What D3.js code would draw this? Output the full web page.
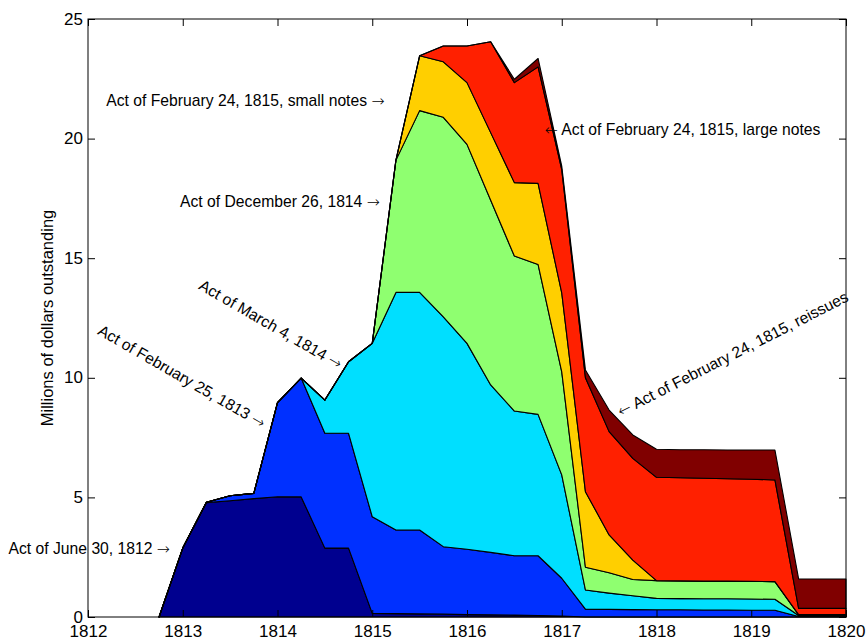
<!DOCTYPE html>
<html>
<head>
<meta charset="utf-8">
<script src="https://cdn.jsdelivr.net/npm/d3@7"></script>
<style>
  body { margin: 0; background: #fff; }
  svg { display: block; font-family: "Liberation Sans", Arial, sans-serif; }
</style>
</head>
<body>
<div class="chart"></div>
<script>
// quarterly dates
const years = [1812.75, 1813, 1813.25, 1813.5, 1813.75, 1814, 1814.25, 1814.5, 1814.75, 1815,
  1815.25, 1815.5, 1815.75, 1816, 1816.25, 1816.5, 1816.75, 1817, 1817.25, 1817.5,
  1817.75, 1818, 1818.25, 1818.5, 1818.75, 1819, 1819.25, 1819.5, 1819.75, 1820]

// millions of dollars outstanding, per act
const june1812 = [0, 2.88, 4.78, 4.86, 4.95, 5.03, 5.02, 2.88, 2.88, 0.15,
  0.14, 0.13, 0.12, 0.10, 0.09, 0.08, 0.06, 0.04, 0, 0,
  0, 0, 0, 0, 0, 0, 0, 0, 0, 0]
const feb1813 = [0, 0, 0.02, 0.21, 0.22, 3.93, 4.97, 4.80, 4.80, 4.04,
  3.50, 3.51, 2.82, 2.73, 2.61, 2.48, 2.50, 1.58, 0.33, 0.32,
  0.31, 0.30, 0.30, 0.29, 0.29, 0.28, 0.28, 0.02, 0.02, 0.02]
const mar1814 = [0, 0, 0, 0, 0, 0, 0, 1.39, 2.99, 7.25,
  9.93, 9.93, 9.61, 8.61, 7.00, 6.05, 5.91, 4.32, 0.80, 0.68,
  0.58, 0.48, 0.47, 0.47, 0.47, 0.47, 0.46, 0.04, 0.04, 0.04]
const dec1814 = [0, 0, 0, 0, 0, 0, 0, 0, 0, 0,
  5.53, 7.60, 8.34, 8.32, 7.72, 6.48, 6.27, 4.31, 0.95, 0.85,
  0.68, 0.74, 0.74, 0.74, 0.74, 0.74, 0.74, 0.04, 0.04, 0.04]
const feb1815small = [0, 0, 0, 0, 0, 0, 0, 0, 0, 0,
  0, 2.29, 2.32, 2.58, 2.83, 3.07, 3.39, 3.30, 3.16, 1.58,
  0.81, 0, 0, 0, 0, 0, 0, 0, 0, 0]
const feb1815large = [0, 0, 0, 0, 0, 0, 0, 0, 0, 0,
  0, 0, 0.66, 1.53, 3.80, 4.18, 4.87, 5.15, 4.76, 4.32,
  4.25, 4.32, 4.31, 4.30, 4.28, 4.27, 4.25, 0.26, 0.26, 0.26]
const feb1815reissue = [0, 0, 0, 0, 0, 0, 0, 0, 0, 0,
  0, 0, 0, 0, 0, 0.14, 0.35, 0.15, 0.33, 0.90,
  0.98, 1.17, 1.17, 1.19, 1.20, 1.22, 1.25, 1.23, 1.23, 1.23]

const seriesNames = ['june1812', 'feb1813', 'mar1814', 'dec1814', 'feb1815small', 'feb1815large', 'feb1815reissue']
const seriesValues = [june1812, feb1813, mar1814, dec1814, feb1815small, feb1815large, feb1815reissue]

const xTicks = [1812, 1813, 1814, 1815, 1816, 1817, 1818, 1819, 1820]
const yTicks = [0, 5, 10, 15, 20, 25]

// annotation texts and the point (year, value) the arrow touches
const noteTexts = [
  'Act of June 30, 1812 \u2192',
  'Act of February 25, 1813 \u2192',
  'Act of March 4, 1814 \u2192',
  'Act of December 26, 1814 \u2192',
  'Act of February 24, 1815, small notes \u2192',
  '\u2190 Act of February 24, 1815, large notes',
  '\u2190 Act of February 24, 1815, reissues'
]
const noteYears = [1812.865, 1813.86, 1814.67, 1815.08, 1815.13, 1816.82, 1817.6]
const noteValues = [2.88, 8.07, 10.54, 17.39, 21.61, 20.4, 8.57]

const W = 867, H = 640
const margin = { left: 88, right: 21, top: 19, bottom: 23 }
const colors = ['#00008F', '#0030FF', '#00DFFF', '#8FFF70', '#FFCF00', '#FF2000', '#800000']

const svg = d3.select('.chart')
  .append('svg')
  .attr('width', W)
  .attr('height', H)

const x = d3.scaleLinear()
  .domain([1812, 1820])
  .range([margin.left, W - margin.right])
const y = d3.scaleLinear()
  .domain([0, 25])
  .range([H - margin.bottom, margin.top])

// build rows for d3.stack
const rows = years.map((yr, i) => {
  const r = { year: yr }
  seriesNames.forEach((n, k) => { r[n] = seriesValues[k][i] })
  return r
})
const stacked = d3.stack().keys(seriesNames)(rows)

const area = d3.area()
  .x(d => x(d.data.year))
  .y0(d => y(d[0]))
  .y1(d => y(d[1]))

svg.selectAll('path.layer')
  .data(stacked)
  .enter()
  .append('path')
  .attr('class', 'layer')
  .attr('d', area)
  .attr('fill', (d, i) => colors[i])
  .attr('stroke', '#000')
  .attr('stroke-width', 1.1)
  .attr('stroke-linejoin', 'round')

// axes, ticks pointing inward on all four sides
const fs = '17px'
const gx = svg.append('g')
  .attr('transform', `translate(0,${y(0)})`)
  .call(d3.axisBottom(x).tickValues(xTicks).tickFormat(d3.format('d')).tickSizeInner(-7).tickSizeOuter(0).tickPadding(8))
const gxTop = svg.append('g')
  .attr('transform', `translate(0,${y(25)})`)
  .call(d3.axisTop(x).tickValues(xTicks).tickFormat('').tickSizeInner(-7).tickSizeOuter(0))
const gy = svg.append('g')
  .attr('transform', `translate(${x(1812)},0)`)
  .call(d3.axisLeft(y).tickValues(yTicks).tickFormat(d3.format('d')).tickSizeInner(-7).tickSizeOuter(0).tickPadding(5))
const gyRight = svg.append('g')
  .attr('transform', `translate(${x(1820)},0)`)
  .call(d3.axisRight(y).tickValues(yTicks).tickFormat('').tickSizeInner(-7).tickSizeOuter(0))

;[gx, gxTop, gy, gyRight].forEach(g => {
  g.select('.domain').remove()
  g.selectAll('line').attr('stroke', '#000')
  g.selectAll('text')
    .attr('font-size', fs)
    .attr('font-family', '"Liberation Sans", Arial, sans-serif')
    .attr('fill', '#000')
})
gy.selectAll('text').attr('dy', '0.3em')

// box
svg.append('rect')
  .attr('x', x(1812))
  .attr('y', y(25))
  .attr('width', x(1820) - x(1812))
  .attr('height', y(0) - y(25))
  .attr('fill', 'none')
  .attr('stroke', '#000')
  .attr('stroke-width', 1)

// y label
svg.append('text')
  .attr('transform', `translate(53,${(y(0) + y(25)) / 2}) rotate(-90)`)
  .attr('text-anchor', 'middle')
  .attr('font-size', '16.5px')
  .text('Millions of dollars outstanding')

// annotations, arrow glyph drawn in DejaVu for a longer arrow
const noteRot = [0, 30, 30, 0, 0, 0, -27]
const notes = svg.selectAll('text.note')
  .data(noteTexts)
  .enter()
  .append('text')
  .attr('class', 'note')
  .attr('transform', (d, i) => `translate(${x(noteYears[i])},${y(noteValues[i])}) rotate(${noteRot[i]})`)
  .attr('text-anchor', d => d.startsWith('\u2190') ? 'start' : 'end')
  .attr('dy', '0.35em')
  .attr('font-size', '15.7px')

notes.each(function (d) {
  const t = d3.select(this)
  const parts = d.split(/([\u2190\u2192])/).filter(p => p !== '')
  parts.forEach(p => {
    const isArrow = p === '\u2190' || p === '\u2192'
    t.append('tspan')
      .attr('font-family', isArrow ? '"DejaVu Sans", sans-serif' : null)
      .attr('font-weight', isArrow ? 200 : null)
      .text(p)
  })
})
</script>
</body>
</html>
